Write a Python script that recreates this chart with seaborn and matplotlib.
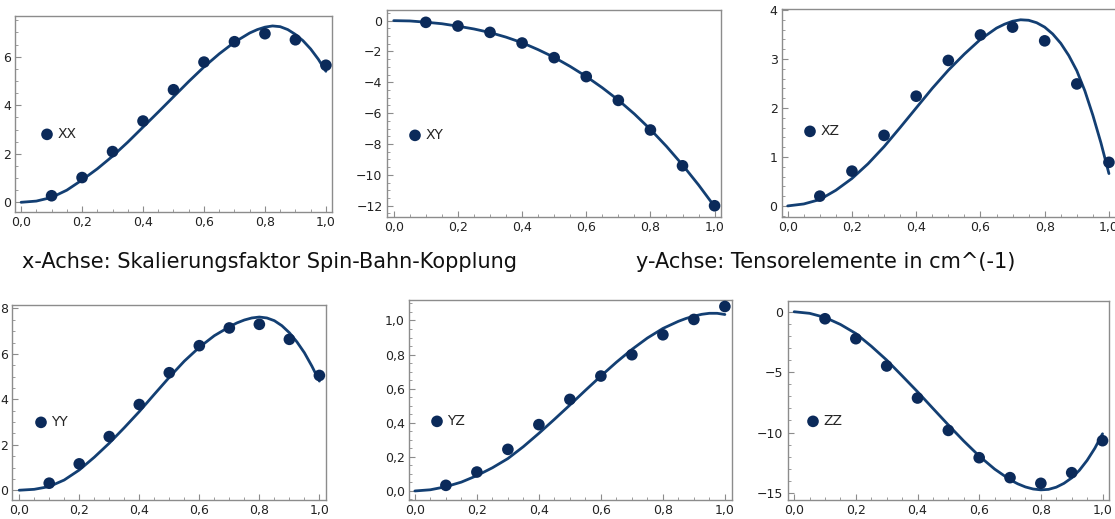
import numpy as np
import pandas as pd
import matplotlib
matplotlib.use("Agg")
import matplotlib.pyplot as plt
from matplotlib.ticker import MultipleLocator, FuncFormatter
import seaborn as sns

# ---------------- data ----------------
x_points = [0.1, 0.2, 0.3, 0.4, 0.5, 0.6, 0.7, 0.8, 0.9, 1.0]

xx_points = [0.27, 1.02, 2.09, 3.35, 4.64, 5.78, 6.62, 6.95, 6.70, 5.65]
xx_curve_x = [0.00, 0.05, 0.10, 0.15, 0.20, 0.25, 0.30, 0.35, 0.40, 0.45, 0.50, 0.55, 0.60,
              0.65, 0.70, 0.75, 0.775, 0.80, 0.825, 0.85, 0.875, 0.90, 0.925, 0.95, 0.975, 1.00]
xx_curve = [0.0, 0.05, 0.20, 0.50, 0.92, 1.38, 1.90, 2.48, 3.10, 3.72, 4.35, 4.98, 5.58,
            6.12, 6.60, 6.98, 7.12, 7.22, 7.27, 7.24, 7.12, 6.92, 6.66, 6.32, 5.90, 5.40]

xy_points = [-0.11, -0.35, -0.76, -1.45, -2.40, -3.63, -5.17, -7.09, -9.41, -12.0]
xy_curve_x = [0.00, 0.05, 0.10, 0.15, 0.20, 0.25, 0.30, 0.35, 0.40, 0.45, 0.50,
              0.55, 0.60, 0.65, 0.70, 0.75, 0.80, 0.85, 0.90, 0.95, 1.00]
xy_curve = [0.0, -0.02, -0.10, -0.20, -0.36, -0.54, -0.77, -1.07, -1.43, -1.88, -2.38,
            -2.97, -3.62, -4.35, -5.15, -6.05, -7.05, -8.15, -9.35, -10.65, -12.05]

xz_points = [0.20, 0.71, 1.44, 2.24, 2.97, 3.49, 3.65, 3.37, 2.49, 0.89]
xz_curve_x = [0.00, 0.05, 0.10, 0.15, 0.20, 0.25, 0.30, 0.35, 0.40, 0.45, 0.50, 0.55, 0.60, 0.65,
              0.675, 0.70, 0.725, 0.75, 0.775, 0.80, 0.825, 0.85, 0.875, 0.90, 0.925, 0.95, 0.975, 1.00]
xz_curve = [0.0, 0.04, 0.13, 0.32, 0.56, 0.86, 1.21, 1.60, 2.00, 2.40, 2.77, 3.10, 3.40, 3.63,
            3.71, 3.77, 3.80, 3.79, 3.74, 3.65, 3.51, 3.32, 3.07, 2.76, 2.35, 1.85, 1.29, 0.66]

yy_points = [0.31, 1.16, 2.36, 3.77, 5.17, 6.36, 7.14, 7.30, 6.64, 5.05]
yy_curve_x = [0.00, 0.05, 0.10, 0.15, 0.20, 0.25, 0.30, 0.35, 0.40, 0.45, 0.50, 0.55, 0.60, 0.65, 0.70,
              0.725, 0.75, 0.775, 0.80, 0.825, 0.85, 0.875, 0.90, 0.925, 0.95, 0.975, 1.00]
yy_curve = [0.0, 0.04, 0.16, 0.45, 0.89, 1.45, 2.07, 2.75, 3.46, 4.22, 4.97, 5.68, 6.29, 6.80, 7.19,
            7.36, 7.49, 7.58, 7.62, 7.58, 7.46, 7.24, 6.93, 6.53, 6.05, 5.46, 4.80]

yz_points = [0.033, 0.111, 0.244, 0.389, 0.537, 0.674, 0.799, 0.916, 1.006, 1.082]
yz_curve_x = [0.00, 0.05, 0.10, 0.15, 0.20, 0.25, 0.30, 0.35, 0.40, 0.45, 0.50, 0.55, 0.60,
              0.65, 0.70, 0.75, 0.80, 0.85, 0.875, 0.90, 0.925, 0.95, 0.975, 1.00]
yz_curve = [0.0, 0.007, 0.025, 0.052, 0.090, 0.136, 0.190, 0.260, 0.338, 0.420, 0.504, 0.590, 0.674,
            0.755, 0.830, 0.897, 0.953, 0.995, 1.012, 1.025, 1.036, 1.042, 1.042, 1.035]

zz_points = [-0.58, -2.23, -4.49, -7.14, -9.82, -12.08, -13.73, -14.20, -13.32, -10.67]
zz_curve_x = [0.00, 0.05, 0.10, 0.15, 0.20, 0.25, 0.30, 0.35, 0.40, 0.45, 0.50, 0.55, 0.60, 0.65, 0.70,
              0.725, 0.75, 0.775, 0.80, 0.825, 0.85, 0.875, 0.90, 0.925, 0.95, 0.975, 1.00]
zz_curve = [0.0, -0.13, -0.47, -1.05, -1.80, -2.85, -4.00, -5.30, -6.62, -8.00, -9.37, -10.70, -11.94,
            -13.02, -13.90, -14.24, -14.50, -14.67, -14.74, -14.70, -14.52, -14.20, -13.75, -13.12,
            -12.30, -11.30, -10.10]

labels = ["XX", "XY", "XZ", "YY", "YZ", "ZZ"]
x_label_text = "x-Achse: Skalierungsfaktor Spin-Bahn-Kopplung"
y_label_text = "y-Achse: Tensorelemente in cm^(-1)"

# ---------------- style ----------------
sns.set_style("white")
plt.rcParams["font.family"] = ["DejaVu Sans"]

W, H = 1115, 519
fig = plt.figure(figsize=(W / 100, H / 100), dpi=100)

LINE_C = "#133f73"
DOT_C = "#0b2a5a"
FRAME_C = "#8c8c8c"

panels = [
    dict(pts=xx_points, cx=xx_curve_x, cur=xx_curve, lab=labels[0], box=(15, 332, 16, 212),
         xl=(-0.020, 1.020), yl=(-0.40, 7.68), ymaj=2, ymin=0.5, leg=(47, 134), fmt="int"),
    dict(pts=xy_points, cx=xy_curve_x, cur=xy_curve, lab=labels[1], box=(386.7, 721, 10, 217),
         xl=(-0.022, 1.020), yl=(-12.73, 0.69), ymaj=2, ymin=0.5, leg=(415, 135), fmt="int"),
    dict(pts=xz_points, cx=xz_curve_x, cur=xz_curve, lab=labels[2], box=(781.7, 1116, 9, 216.7),
         xl=(-0.0187, 1.022), yl=(-0.22, 4.02), ymaj=1, ymin=0.2, leg=(810, 131), fmt="int"),
    dict(pts=yy_points, cx=yy_curve_x, cur=yy_curve, lab=labels[3], box=(12.3, 326, 305, 500),
         xl=(-0.023, 1.022), yl=(-0.43, 8.15), ymaj=2, ymin=0.5, leg=(41, 422), fmt="int"),
    dict(pts=yz_points, cx=yz_curve_x, cur=yz_curve, lab=labels[4], box=(409, 731.7, 300, 500),
         xl=(-0.019, 1.022), yl=(-0.053, 1.12), ymaj=0.2, ymin=0.05, leg=(437, 421), fmt="dec"),
    dict(pts=zz_points, cx=zz_curve_x, cur=zz_curve, lab=labels[5], box=(787.7, 1109, 301, 500),
         xl=(-0.021, 1.021), yl=(-15.58, 0.89), ymaj=5, ymin=1, leg=(813, 421), fmt="int"),
]

def dec_fmt(v, pos):
    s = f"{v:.1f}"
    if s.startswith("-"):
        s = "\u2212" + s[1:]
    return s.replace(".", ",")

def int_fmt(v, pos):
    s = f"{v:.0f}"
    if s == "-0":
        s = "0"
    if s.startswith("-"):
        s = "\u2212" + s[1:]
    return s

LEG_FS = 10
for p in panels:
    l, r, t, b = p["box"]
    ax = fig.add_axes([l / W, 1 - b / H, (r - l) / W, (b - t) / H])
    df_c = pd.DataFrame({"x": p["cx"], "y": p["cur"]})
    df_p = pd.DataFrame({"x": x_points, "y": p["pts"]})
    sns.lineplot(data=df_c, x="x", y="y", ax=ax, color=LINE_C, linewidth=2.0, zorder=2)
    sns.scatterplot(data=df_p, x="x", y="y", ax=ax, color=DOT_C, s=70, edgecolor="none",
                    zorder=3, label=p["lab"])
    ax.set_xlim(*p["xl"])
    ax.set_ylim(*p["yl"])
    ax.set_xlabel("")
    ax.set_ylabel("")
    ax.xaxis.set_major_locator(MultipleLocator(0.2))
    ax.xaxis.set_minor_locator(MultipleLocator(0.05))
    ax.yaxis.set_major_locator(MultipleLocator(p["ymaj"]))
    ax.yaxis.set_minor_locator(MultipleLocator(p["ymin"]))
    ax.xaxis.set_major_formatter(FuncFormatter(dec_fmt))
    ax.yaxis.set_major_formatter(FuncFormatter(dec_fmt if p["fmt"] == "dec" else int_fmt))
    ax.tick_params(which="both", direction="in", bottom=True, left=True, top=False, right=False,
                   color=FRAME_C, labelsize=9, labelcolor="#222222", pad=3)
    ax.tick_params(which="major", length=4, width=0.8)
    ax.tick_params(which="minor", length=2.2, width=0.6)
    for sp in ax.spines.values():
        sp.set_color(FRAME_C)
        sp.set_linewidth(1.0)
    mx, my = p["leg"]
    handle_len = 0.8
    half_px = handle_len * LEG_FS * 100 / 72 / 2
    fx = (mx - half_px - l) / (r - l)
    fy = (b - my) / (b - t)
    ax.legend(loc="center left", bbox_to_anchor=(fx, fy), frameon=False, fontsize=LEG_FS,
              handlelength=handle_len, handletextpad=0.35, borderpad=0, borderaxespad=0,
              markerscale=1.0)

fig.text(22 / W, 1 - 268 / H, x_label_text, fontsize=15, color="#111111", ha="left", va="baseline")
fig.text(636 / W, 1 - 268 / H, y_label_text, fontsize=15, color="#111111", ha="left", va="baseline")

fig.savefig("out.png", dpi=100, facecolor="white")
